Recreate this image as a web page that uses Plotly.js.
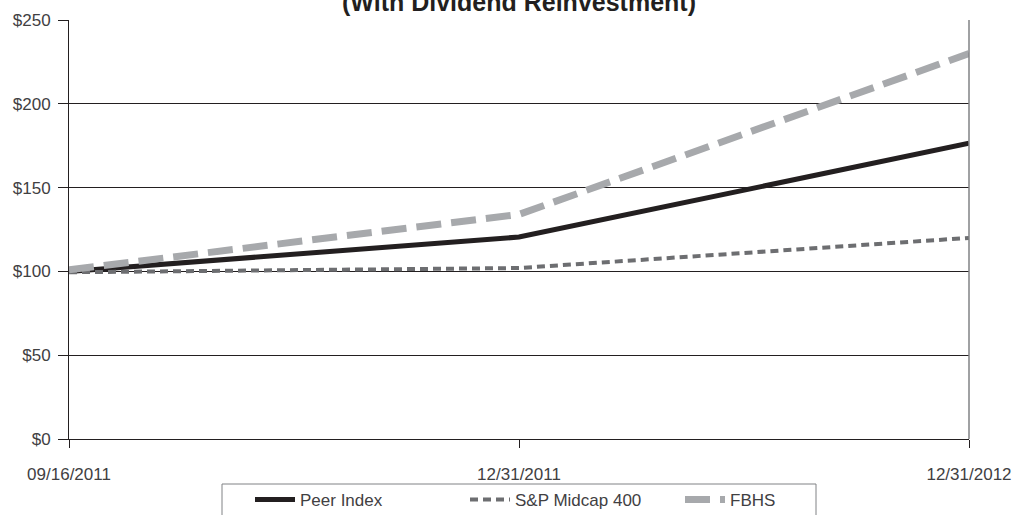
<!DOCTYPE html>
<html><head><meta charset="utf-8">
<script src="https://cdn.plot.ly/plotly-3.0.1.min.js"></script>
<style>html,body{margin:0;padding:0;background:#fff;overflow:hidden}</style>
</head><body>
<div id="chart" style="width:1017px;height:515px"></div>
<script>
const dates = ["09/16/2011", "12/31/2011", "12/31/2012"];
const peerIndex = [100, 120.5, 176.5];
const spMidcap400 = [99.5, 102, 120];
const fbhs = [101, 134, 230];
const yTicks = [0, 50, 100, 150, 200, 250];
const yTickText = ["$0", "$50", "$100", "$150", "$200", "$250"];

const font = {family: "Liberation Sans, Arial, sans-serif", size: 17, color: "#414042"};

const traces = [
  {x: dates, y: peerIndex, name: "Peer Index", mode: "lines", line: {color: "#231f20", width: 5}},
  {x: dates, y: spMidcap400, name: "S&P Midcap 400", mode: "lines", line: {color: "#6d6e71", width: 4, dash: "8px,5px"}},
  {x: dates, y: fbhs, name: "FBHS", mode: "lines", line: {color: "#a7a9ac", width: 7, dash: "25px,10px"}}
];

const layout = {
  width: 1017, height: 515,
  margin: {l: 69, r: 48, t: 20, b: 76, autoexpand: false},
  paper_bgcolor: "#fff", plot_bgcolor: "#fff",
  font: font,
  showlegend: true,
  title: {text: "<b>(With Dividend Reinvestment)</b>", x: 0.5, xref: "paper", y: 0.996, yref: "container", yanchor: "middle",
          font: {family: "Liberation Sans, Arial, sans-serif", size: 25, color: "#231f20"}},
  xaxis: {type: "category", range: [0, 2], showgrid: false, zeroline: false,
          showline: true, linecolor: "#231f20", linewidth: 1,
          ticks: "outside", ticklen: 8, tickcolor: "#231f20", ticklabelstandoff: 12,
          tickfont: font, fixedrange: true},
  yaxis: {range: [0, 250], tickvals: yTicks, ticktext: yTickText,
          showgrid: true, gridcolor: "#231f20", gridwidth: 1, zeroline: false,
          showline: true, linecolor: "#231f20", linewidth: 1,
          ticks: "outside", ticklen: 10, tickcolor: "#231f20", ticklabelstandoff: 4,
          tickfont: font, fixedrange: true},
  shapes: [
    {type: "line", xref: "paper", yref: "paper", x0: 1, x1: 1, y0: 0, y1: 1, line: {color: "#808285", width: 1.5}},
    {type: "rect", xref: "paper", yref: "paper", x0: (222-69)/900, x1: (816-69)/900, y0: -(484-439)/419, y1: -(530-439)/419,
     line: {color: "#808285", width: 1}, fillcolor: "rgba(0,0,0,0)"}
  ],
  legend: {orientation: "h", x: (250-69)/900, xanchor: "left", y: -(482-439)/419, yanchor: "top",
           borderwidth: 0, bgcolor: "rgba(0,0,0,0)",
           font: font, entrywidth: 160, entrywidthmode: "pixels", itemwidth: 40, traceorder: "normal"}
};

Plotly.newPlot("chart", traces, layout, {displayModeBar: false, staticPlot: true});
</script>
</body></html>
